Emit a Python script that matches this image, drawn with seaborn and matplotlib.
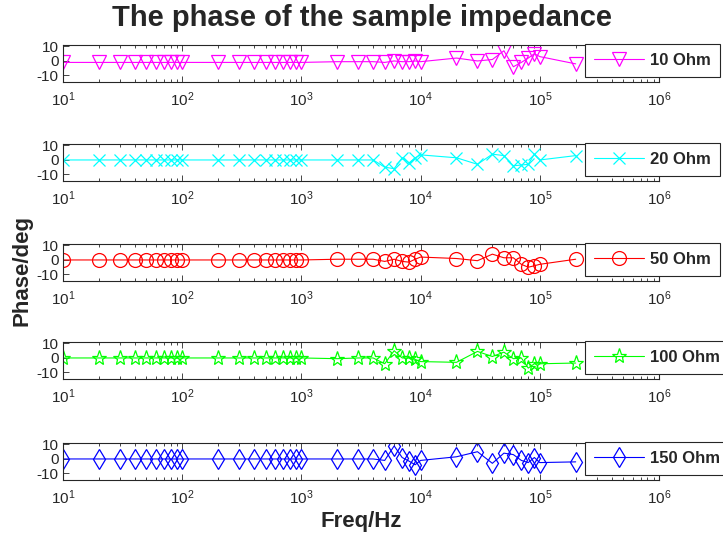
import numpy as np
import pandas as pd
import matplotlib
matplotlib.use("Agg")
import matplotlib.pyplot as plt
import seaborn as sns
from matplotlib.ticker import LogLocator

freq = [10, 20, 30, 40, 50, 60, 70, 80, 90, 100,
        200, 300, 400, 500, 600, 700, 800, 900, 1000,
        2000, 3000, 4000, 5000, 6000, 7000, 8000, 9000, 10000,
        20000, 30000, 40000, 50000, 60000, 70000, 80000, 90000, 100000,
        200000]

phase_10 = [-1, -1, -1, -1, -1, -1, -1, -1, -1, -1,
            -1, -1, -1, -1, -1, -1, -1, -1, -1,
            -0.5, -0.5, -0.5, -1, 0, -0.5, -0.5, 0, -0.5,
            2, 0, 1, 7, -4, -1, 2, 5, 3,
            -2]
phase_20 = [0, 0, 0, 0, 0, 0, 0, 0, 0, 0,
            0, 0, 0, 0, 0, 0, 0, 0, 0,
            0, 0, 0, -5, -6, 1.5, -2, 1.5, 3.5,
            1.5, -3, 4, 3, -4, -3.5, -3, 4, 0,
            3]
phase_50 = [0, 0, 0, 0, 0, 0, 0, 0, 0, 0,
            0, 0, 0, 0, 0, 0, 0, 0, 0,
            0.5, 0.5, 0.5, -1, 0.5, -1, -1.5, 0.5, 2,
            1, -0.5, 4, 1.5, 1.5, -3, -5, -4, -3,
            0.5]
phase_100 = [0, 0, 0, 0, 0, 0, 0, 0, 0, 0,
             0, 0, 0, 0, 0, 0, 0, 0, 0,
             -0.5, 0, 0, -4, 5, 0, 0, -1, -2.5,
             -3, 4.5, 1, 4, -0.5, 0, -7, -4, -4,
             -3.5]
phase_150 = [0, 0, 0, 0, 0, 0, 0, 0, 0, 0,
             0, 0, 0, 0, 0, 0, 0, 0, 0,
             0, 0, 0, -1, 9, 1, -1.5, -4, -1,
             1.5, 5, -3, 4, 3, -1, -2.5, 1, -2.5,
             -2]

labels = ["10 Ohm", "20 Ohm", "50 Ohm", "100 Ohm", "150 Ohm"]
series = [phase_10, phase_20, phase_50, phase_100, phase_150]
colors = ["#ff00ff", "#00ffff", "#ff0000", "#00ff00", "#0000ff"]
markers = ["v", "x", "o", "*", "d"]
msizes = [10, 8, 10, 11, 10]

sns.set_style("ticks")
plt.rcParams["font.family"] = ["Liberation Sans", "DejaVu Sans"]
plt.rcParams["mathtext.fontset"] = "custom"
plt.rcParams["mathtext.rm"] = "Liberation Sans"
plt.rcParams["axes.unicode_minus"] = False

W, H = 723, 540
fig = plt.figure(figsize=(W / 100, H / 100), dpi=100)

left_px, right_px = 63, 659
tops = [45, 144, 244, 342, 443]
ax_h = 37

for i in range(5):
    top = tops[i]
    ax = fig.add_axes([left_px / W, 1 - (top + ax_h) / H, (right_px - left_px) / W, ax_h / H])
    ax.set_xscale("log")
    df = pd.DataFrame({"freq": freq, "phase": series[i]})
    sns.lineplot(data=df, x="freq", y="phase", ax=ax, color=colors[i],
                 marker=markers[i], markersize=msizes[i], markerfacecolor="none",
                 markeredgecolor=colors[i], markeredgewidth=0.9, linewidth=0.8,
                 label=labels[i], legend=False)
    ax.set_xlim(10, 1e6)
    ax.set_ylim(-14.5, 11)
    ax.set_yticks([-10, 0, 10])
    ax.set_xlabel("")
    ax.set_ylabel("")
    ax.xaxis.set_major_locator(LogLocator(base=10, numticks=10))
    ax.xaxis.set_minor_locator(LogLocator(base=10, subs=np.arange(2, 10), numticks=20))
    ax.tick_params(axis="both", which="both", direction="in", top=True, right=True,
                   colors="#262626", labelsize=11, width=0.6)
    ax.tick_params(axis="both", which="major", length=4)
    ax.tick_params(axis="x", which="minor", length=2.5)
    ax.tick_params(axis="y", pad=3)
    ax.tick_params(axis="x", pad=6)
    for s in ax.spines.values():
        s.set_color("#262626")
        s.set_linewidth(0.8)
    leg = ax.legend(loc="upper left", bbox_to_anchor=(585 / W, 1 - (top - 1) / H),
                    bbox_transform=fig.transFigure, borderaxespad=0,
                    prop={"weight": "bold", "size": 12}, handlelength=3.0,
                    fancybox=False, framealpha=1, edgecolor="#262626",
                    borderpad=0.55, handletextpad=0.35)
    leg.get_frame().set_linewidth(0.8)

fig.text(0.5, 1 - 18 / H, "The phase of the sample impedance", ha="center", va="center",
         fontsize=21, fontweight="bold")
fig.text(22 / W, 0.5, "Phase/deg", rotation=90, ha="center", va="center",
         fontsize=16, fontweight="bold")
fig.text(361 / W, 1 - 522 / H, "Freq/Hz", ha="center", va="center",
         fontsize=16, fontweight="bold")

fig.savefig("out.png", dpi=100)
